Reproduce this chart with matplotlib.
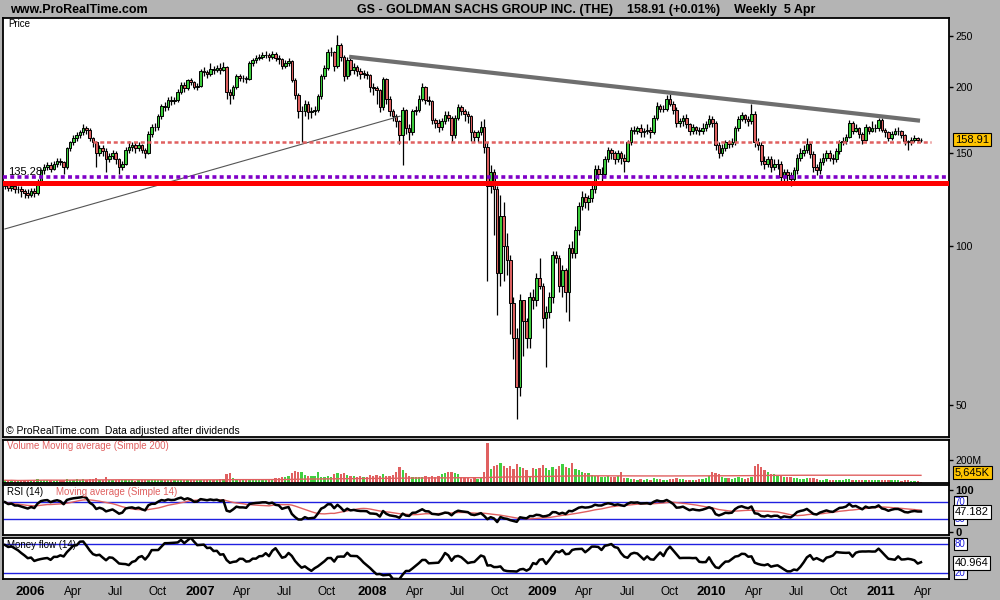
import numpy as np
import pandas as pd
import matplotlib
matplotlib.use("Agg")
import matplotlib.pyplot as plt
from matplotlib.ticker import NullLocator

plt.rcParams['font.family'] = ['Liberation Sans', 'DejaVu Sans']

# GS weekly candles, week of 2005-11-14 up to week of 2011-04-04
closes = [131, 129, 130, 128, 128, 127, 126, 125, 127, 126,
          133, 139, 141, 142, 140, 143, 145, 144, 141, 153,
          157, 160, 162, 164, 167, 166, 160, 157, 150, 153,
          151, 146, 148, 150, 146, 141, 143, 152, 154, 155,
          153, 155, 152, 150, 163, 168, 168, 176, 184, 183,
          189, 188, 189, 196, 202, 199, 206, 204, 200, 201,
          214, 213, 212, 216, 215, 217, 215, 218, 196, 193,
          200, 210, 208, 208, 207, 222, 225, 227, 228, 230,
          230, 228, 231, 227, 226, 219, 222, 224, 206, 193,
          180, 180, 186, 179, 180, 181, 192, 210, 217, 233,
          233, 219, 240, 228, 210, 225, 215, 218, 214, 212,
          212, 211, 200, 199, 197, 183, 207, 190, 180, 176,
          172, 162, 181, 167, 164, 180, 181, 190, 200, 189,
          188, 173, 171, 168, 172, 177, 175, 162, 175, 183,
          180, 178, 176, 164, 161, 164, 168, 154, 130, 138,
          128, 89, 114, 100, 94, 78, 67, 54, 79, 72,
          67, 80, 79, 87, 84, 73, 75, 80, 96, 95,
          84, 90, 82, 99, 97, 107, 119, 124, 121, 123,
          128, 140, 137, 137, 146, 152, 150, 146, 150, 147,
          145, 157, 166, 165, 167, 164, 165, 166, 164, 175,
          184, 182, 182, 190, 186, 181, 171, 172, 175, 170,
          165, 168, 166, 165, 167, 170, 174, 171, 155, 150,
          153, 157, 156, 157, 167, 174, 177, 174, 172, 178,
          157, 155, 145, 143, 146, 141, 143, 143, 135, 138,
          136, 134, 139, 147, 150, 152, 156, 149, 141, 139,
          144, 147, 150, 147, 146, 151, 157, 158, 161, 171,
          165, 167, 163, 159, 168, 165, 167, 167, 173, 166,
          164, 160, 163, 165, 165, 162, 158, 157, 159, 160,
          159, 158.91]

highs = [133, 132, 132, 131, 130, 130, 128, 128, 129, 129,
         134, 140, 143, 144, 144, 145, 147, 147, 145, 154,
         158, 162, 164, 166, 170, 169, 167, 161, 158, 155,
         155, 153, 150, 152, 151, 147, 145, 154, 158, 157,
         157, 157, 156, 153, 165, 170, 171, 178, 186, 187,
         191, 192, 191, 198, 204, 204, 207, 208, 205, 203,
         216, 218, 215, 222, 219, 220, 222, 223, 219, 198,
         202, 212, 212, 211, 210, 224, 227, 230, 231, 233,
         234, 232, 234, 233, 230, 227, 225, 227, 225, 208,
         195, 184, 189, 188, 183, 184, 194, 212, 220, 236,
         238, 234, 251, 242, 230, 228, 227, 222, 220, 217,
         215, 214, 212, 203, 201, 198, 209, 208, 192, 182,
         178, 173, 183, 182, 170, 182, 184, 193, 203, 201,
         192, 189, 175, 174, 175, 180, 180, 176, 177, 186,
         185, 182, 180, 177, 166, 166, 172, 174, 157, 142,
         140, 130, 125, 121, 106, 96, 80, 70, 81, 79,
         73, 82, 83, 89, 95, 85, 77, 82, 98, 98,
         96, 92, 91, 101, 102, 109, 121, 127, 126, 125,
         131, 142, 142, 141, 148, 154, 153, 151, 152, 151,
         149, 159, 168, 169, 169, 170, 167, 170, 168, 177,
         187, 186, 185, 193, 194, 188, 183, 175, 177, 178,
         171, 170, 169, 168, 171, 172, 177, 176, 172, 157,
         156, 159, 159, 160, 169, 176, 179, 178, 176, 186,
         180, 160, 157, 148, 148, 148, 146, 146, 145, 140,
         140, 138, 141, 149, 153, 155, 160, 157, 151, 143,
         147, 150, 152, 152, 149, 153, 159, 161, 163, 173,
         172, 170, 168, 164, 170, 169, 172, 170, 175, 175,
         167, 165, 165, 167, 168, 166, 163, 159, 161, 162,
         161, 160]

lows = [128, 127, 127, 126, 126, 124, 123, 123, 124, 124,
        125, 132, 137, 139, 138, 139, 141, 142, 137, 140,
        151, 155, 158, 160, 162, 163, 158, 154, 141, 148,
        148, 138, 144, 146, 143, 137, 139, 142, 150, 151,
        150, 151, 150, 147, 149, 161, 165, 166, 174, 180,
        181, 185, 186, 187, 194, 196, 197, 202, 198, 197,
        200, 210, 208, 210, 212, 213, 212, 214, 190, 186,
        190, 198, 205, 204, 203, 206, 219, 222, 225, 226,
        227, 224, 226, 224, 221, 216, 217, 219, 204, 190,
        175, 157, 176, 174, 175, 177, 179, 190, 207, 215,
        229, 214, 217, 224, 205, 207, 211, 212, 210, 207,
        208, 207, 196, 193, 186, 179, 181, 186, 176, 172,
        168, 156, 142, 163, 159, 162, 177, 179, 188, 186,
        185, 170, 167, 164, 166, 170, 172, 157, 160, 173,
        177, 172, 171, 158, 157, 157, 162, 150, 86, 126,
        105, 74, 84, 86, 88, 68, 61, 47, 52, 62,
        64, 64, 76, 77, 83, 70, 59, 73, 78, 93,
        82, 80, 75, 72, 95, 95, 105, 117, 118, 117,
        121, 126, 134, 133, 135, 144, 146, 143, 144, 143,
        138, 144, 155, 163, 163, 161, 161, 163, 160, 163,
        173, 179, 179, 180, 184, 178, 168, 168, 169, 167,
        162, 163, 163, 162, 163, 165, 168, 168, 152, 147,
        148, 151, 153, 154, 155, 165, 172, 171, 169, 170,
        154, 152, 142, 140, 141, 138, 139, 140, 132, 133,
        133, 130, 132, 137, 145, 148, 150, 147, 138, 136,
        137, 142, 145, 145, 143, 144, 149, 155, 156, 160,
        163, 164, 160, 156, 158, 163, 164, 164, 165, 164,
        161, 158, 159, 162, 162, 160, 155, 152, 155, 157,
        157, 157]

# weekly volume, millions of shares
volumes = [24, 22, 25, 20, 18, 26, 21, 23, 28, 30,
           34, 28, 25, 22, 24, 20, 22, 26, 30, 35,
           28, 30, 32, 26, 34, 30, 38, 33, 40, 30,
           28, 52, 30, 26, 24, 27, 30, 25, 22, 24,
           20, 26, 22, 24, 30, 28, 26, 24, 27, 25,
           24, 26, 28, 30, 24, 22, 25, 30, 28, 26,
           30, 28, 25, 30, 26, 28, 32, 34, 75, 90,
           45, 38, 32, 28, 30, 35, 30, 28, 26, 32,
           28, 30, 34, 40, 45, 55, 50, 60, 90, 105,
           95, 100, 70, 65, 60, 62, 100, 55, 48, 60,
           52, 75, 90, 80, 85, 70, 62, 58, 55, 60,
           48, 52, 70, 65, 72, 60, 75, 65, 60, 70,
           95, 135, 110, 90, 60, 55, 50, 48, 52, 58,
           50, 62, 55, 60, 75, 85, 95, 100, 90, 80,
           50, 45, 40, 35, 42, 38, 45, 100, 350, 120,
           150, 160, 175, 150, 130, 145, 120, 165, 140, 130,
           110, 60, 130, 125, 130, 160, 130, 110, 140, 120,
           150, 165, 140, 130, 176, 120, 110, 100, 90, 85,
           70, 65, 60, 55, 50, 58, 52, 48, 60, 95,
           40, 45, 35, 38, 30, 32, 28, 35, 30, 42,
           38, 35, 30, 28, 32, 35, 40, 38, 32, 30,
           28, 30, 26, 35, 35, 40, 60, 95, 85, 80,
           55, 45, 40, 38, 42, 48, 40, 38, 45, 50,
           150, 165, 140, 110, 95, 80, 75, 65, 58, 52,
           55, 48, 45, 40, 38, 35, 42, 40, 45, 38,
           30, 28, 32, 30, 26, 25, 28, 30, 32, 35,
           30, 28, 26, 30, 25, 28, 24, 26, 22, 28,
           30, 26, 24, 28, 22, 20, 24, 22, 18, 16,
           20, 5.645]

# indicator state carried in from the weeks before the chart starts
prior_avg_gain = 1.6
prior_avg_loss = 0.7
prior_pos_flow = 3300.0
prior_neg_flow = 900.0

first_week = "2005-11-14"
axis_labels = ["2006", "Apr", "Jul", "Oct", "2007", "Apr", "Jul", "Oct",
               "2008", "Apr", "Jul", "Oct", "2009", "Apr", "Jul", "Oct",
               "2010", "Apr", "Jul", "Oct", "2011", "Apr"]
axis_dates = ["2006-01-01", "2006-04-01", "2006-07-01", "2006-10-01",
              "2007-01-01", "2007-04-01", "2007-07-01", "2007-10-01",
              "2008-01-01", "2008-04-01", "2008-07-01", "2008-10-01",
              "2009-01-01", "2009-04-01", "2009-07-01", "2009-10-01",
              "2010-01-01", "2010-04-01", "2010-07-01", "2010-10-01",
              "2011-01-01", "2011-04-01"]

# drawn objects
resist_dates = ["2007-11-23", "2011-04-02"]
resist_prices = [228, 172.6]
old_trend_dates = ["2005-11-14", "2008-03-11"]
old_trend_prices = [107.7, 176]
pink_level = 157.5
pink_dates = ["2006-05-22", "2011-04-25"]
purple_level = 135.28
red_level = 131.4
last_price = "158.91"
last_volume = "5,645K"
last_rsi = "47.182"
last_mfi = "40.964"

GREEN = '#3ccc3c'
RED = '#dc6060'
SALMON = '#e06060'
BLUE = '#2020e0'
BG = '#b4b4b4'


def week_pos(d):
    return (pd.Timestamp(d) - pd.Timestamp(first_week)).days / 7.0


n = len(closes)
x = np.arange(n)
c = np.array(closes, dtype=float)
o = np.concatenate([[130.0], c[:-1]])  # weekly open ~ previous close
h = np.array(highs, dtype=float)
l = np.array(lows, dtype=float)
v = np.array(volumes, dtype=float)
up = c >= o

# RSI 14 (Wilder)
rsi = np.zeros(n)
ag, al = prior_avg_gain, prior_avg_loss
for i in range(n):
    dlt = c[i] - (o[0] if i == 0 else c[i - 1])
    ag = (13 * ag + max(dlt, 0)) / 14
    al = (13 * al + max(-dlt, 0)) / 14
    rsi[i] = 100 - 100 / (1 + ag / al)
rsi_ma = pd.Series(rsi).rolling(14, min_periods=1).mean()

# Money flow 14
tp = (h + l + c) / 3
rmf = tp * v
tp_chg = np.diff(tp, prepend=tp[0])
pos = np.concatenate([[prior_pos_flow] * 13, np.where(tp_chg > 0, rmf, 0)])
neg = np.concatenate([[prior_neg_flow] * 13, np.where(tp_chg < 0, rmf, 0)])
pos_s = pd.Series(pos).rolling(14).sum().values[13:]
neg_s = pd.Series(neg).rolling(14).sum().values[13:]
mfi = 100 - 100 / (1 + pos_s / neg_s)

vol_ma = pd.Series(v).rolling(200, min_periods=1).mean()

fig = plt.figure(figsize=(10, 6), dpi=100, facecolor=BG)


def fx(px):
    return px / 1000.0


def fy(py):
    return 1 - py / 600.0


def panel(top, bottom):
    ax = fig.add_axes([fx(3), fy(bottom), fx(946), (bottom - top) / 600.0])
    ax.set_facecolor('white')
    for s in ax.spines.values():
        s.set_linewidth(1.3)
        s.set_color('black')
    ax.set_xlim(-0.6, 289.6)
    ax.set_xticks([])
    ax.yaxis.tick_right()
    ax.tick_params(axis='y', direction='out', length=3, width=1,
                   pad=1.5, labelsize=7.5)
    return ax


# price panel
ax = panel(18, 437)
ax.set_yscale('log')
ax.set_ylim(43.5, 270)
ax.yaxis.set_minor_locator(NullLocator())
ax.set_yticks([50, 100, 150, 200, 250])
ax.set_yticklabels(['50', '100', '150', '200', '250'])

ax.vlines(x, l, h, color='black', lw=0.9, zorder=2)
ax.bar(x, np.maximum(np.abs(c - o), 0.01), bottom=np.minimum(o, c), width=0.8,
       color=np.where(up, GREEN, RED), edgecolor='black', lw=0.7, zorder=3)

ax.plot([week_pos(dd) for dd in old_trend_dates], old_trend_prices,
        color='#555555', lw=0.8, zorder=4)
ax.plot([week_pos(dd) for dd in resist_dates], resist_prices,
        color='#6e6e6e', lw=3, zorder=4, solid_capstyle='butt')
ax.plot([week_pos(dd) for dd in pink_dates], [pink_level, pink_level],
        color=SALMON, lw=1.8, linestyle=(0, (1.6, 1.1)), zorder=4)
ax.axhline(purple_level, color='#8000c8', lw=2.6, linestyle=(0, (1.1, 0.9)),
           dash_capstyle='butt', zorder=5)
ax.axhline(red_level, color='#ff0000', lw=3.6, zorder=5)

fig.text(fx(8), fy(172), f"{purple_level:.2f}", fontsize=8, va='center')
ax.text(1.0063, float(last_price), last_price, transform=ax.get_yaxis_transform(),
        fontsize=8, va='center', ha='left', zorder=10,
        bbox=dict(boxstyle='square,pad=0.15', fc='#ffc400', ec='black', lw=0.8))
fig.text(fx(8), fy(24), "Price", fontsize=7, va='center')
fig.text(fx(6), fy(431), "\u00a9 ProRealTime.com  Data adjusted after dividends",
         fontsize=7.5, va='center')

# volume panel
axv = panel(440, 483)
axv.set_ylim(0, 374)
axv.bar(x, v, width=0.7, color=np.where(up, '#40d040', SALMON), lw=0)
axv.plot(x, vol_ma, color=SALMON, lw=1)
axv.set_yticks([200])
axv.set_yticklabels(['200M'])
axv.text(1.0063, 0.25, last_volume, transform=axv.transAxes, fontsize=8,
         va='center', ha='left',
         bbox=dict(boxstyle='square,pad=0.15', fc='#ffc400', ec='black', lw=0.8))
fig.text(fx(7), fy(446), "Volume Moving average (Simple 200)", fontsize=7,
         color=SALMON, va='center')

# RSI panel
axr = panel(485, 535)
axr.set_ylim(-6.8, 110.8)
axr.axhline(70, color=BLUE, lw=1)
axr.axhline(30, color=BLUE, lw=1)
axr.plot(x, rsi_ma, color=SALMON, lw=1)
axr.plot(x, rsi, color='black', lw=1.8)
axr.set_yticks([100, 0])
axr.set_yticklabels(['100', '0'], fontweight='bold', fontsize=8)
yt = axr.get_yaxis_transform()
for lv in ["70", "30"]:
    axr.text(1.0063, float(lv), lv, transform=yt, fontsize=7, color=BLUE,
             va='center', ha='left',
             bbox=dict(boxstyle='square,pad=0.1', fc='white', ec='black', lw=0.8))
axr.text(1.0063, float(last_rsi), last_rsi, transform=yt, fontsize=8, va='center',
         ha='left', bbox=dict(boxstyle='square,pad=0.15', fc='white', ec='black', lw=0.8))
fig.text(fx(7), fy(492), "RSI (14)", fontsize=7, va='center')
fig.text(fx(56), fy(492), "Moving average (Simple 14)", fontsize=7,
         color=SALMON, va='center')

# Money flow panel
axm = panel(538, 579)
axm.set_ylim(8.2, 93)
axm.axhline(80, color=BLUE, lw=1)
axm.axhline(20, color=BLUE, lw=1)
axm.plot(x, mfi, color='black', lw=1.8)
axm.set_yticks([])
yt = axm.get_yaxis_transform()
for lv in ["80", "20"]:
    axm.text(1.0063, float(lv), lv, transform=yt, fontsize=7, color=BLUE,
             va='center', ha='left',
             bbox=dict(boxstyle='square,pad=0.1', fc='white', ec='black', lw=0.8))
axm.text(1.0063, float(last_mfi), last_mfi, transform=yt, fontsize=8, va='center',
         ha='left', bbox=dict(boxstyle='square,pad=0.15', fc='white', ec='black', lw=0.8))
fig.text(fx(7), fy(545), "Money flow (14)", fontsize=7, va='center')

# date axis
weeks = pd.date_range(first_week, periods=n, freq="7D")
tick_pos = [weeks.searchsorted(pd.Timestamp(dd)) + 0.8 for dd in axis_dates]
axm.set_xticks(tick_pos)
axm.set_xticklabels(axis_labels)
axm.tick_params(axis='x', length=0, pad=5)
for t in axm.get_xticklabels():
    if t.get_text().isdigit():
        t.set_fontweight('bold')
        t.set_fontsize(9.5)
    else:
        t.set_fontsize(8.5)

# header
fig.text(fx(10), fy(10), "www.ProRealTime.com", fontsize=9, weight='bold', va='center')
fig.text(fx(357), fy(10),
         "GS - GOLDMAN SACHS GROUP INC. (THE)    158.91 (+0.01%)    Weekly  5 Apr",
         fontsize=9, weight='bold', va='center')

fig.savefig("out.png", dpi=100, facecolor=BG)
